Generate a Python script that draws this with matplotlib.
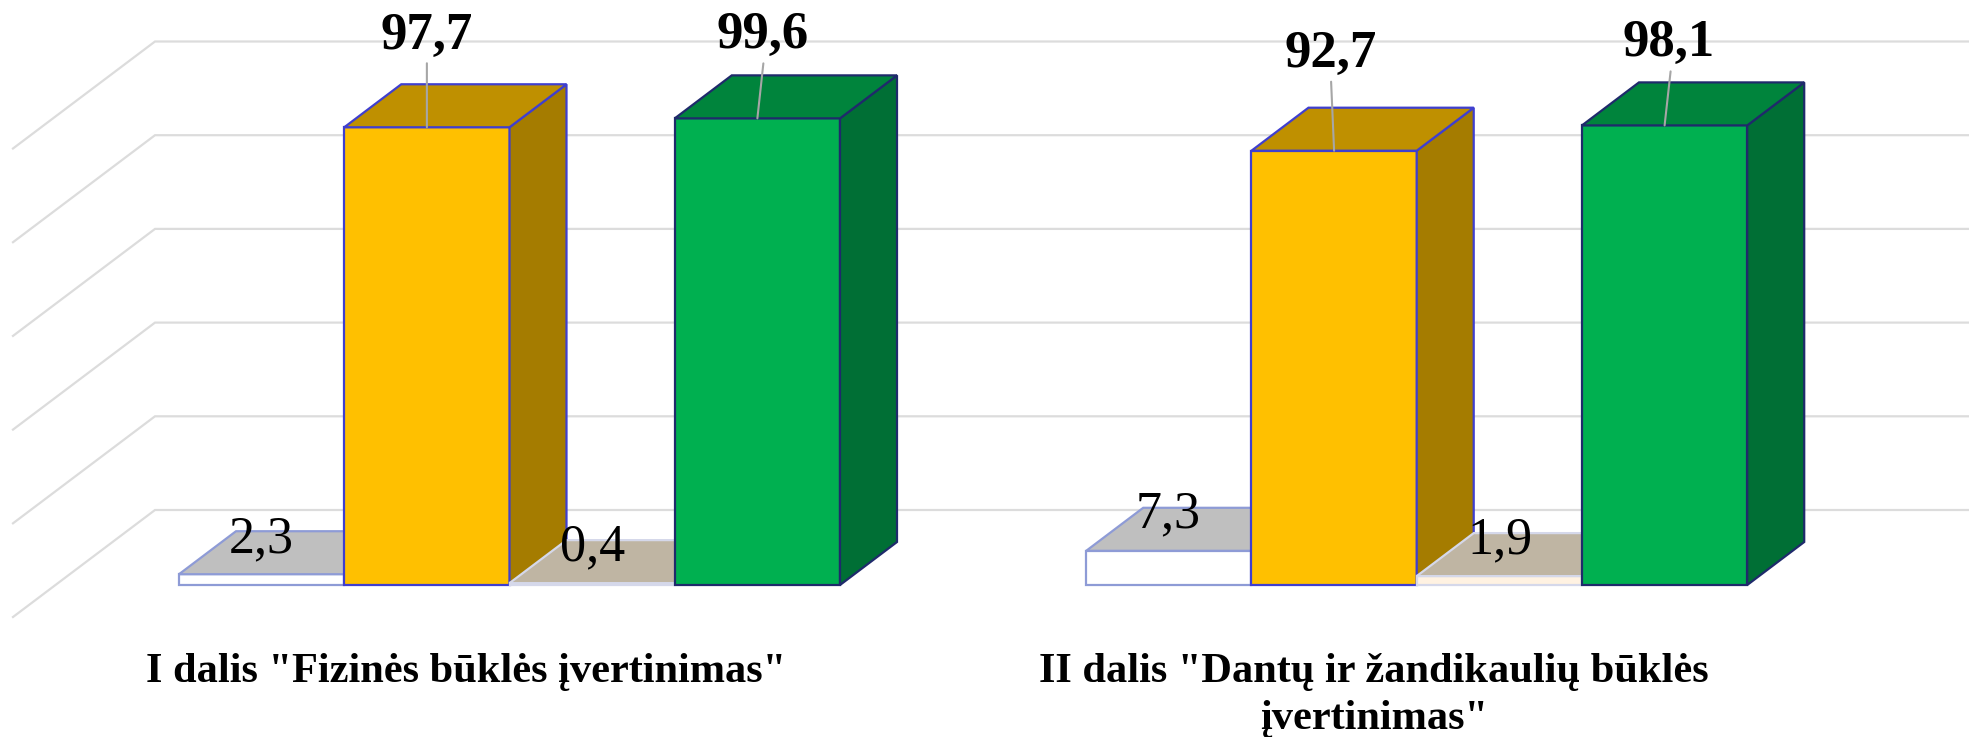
import numpy as np
import matplotlib
matplotlib.use('Agg')
import matplotlib.pyplot as plt
from matplotlib.patches import Polygon

# Values
categories = ['I dalis "Fizinės būklės įvertinimas"',
              'II dalis "Dantų ir žandikaulių būklės\nįvertinimas"']
white_a = [2.3, 7.3]
yellow = [97.7, 92.7]
white_b = [0.4, 1.9]
green = [99.6, 98.1]
grid_values = [0, 20, 40, 60, 80, 100]
value_labels = {'white_a': ['2,3', '7,3'], 'yellow': ['97,7', '92,7'],
                'white_b': ['0,4', '1,9'], 'green': ['99,6', '98,1']}

# Layout of the fake 3D chart
W, H = 1969, 737
PX_PER_BAR = 165.25
PX_PER_VALUE = 4.685
LEFT_PX = 179
BASE_PX = 585
GROUP_STEP = 5.49
DEPTH_X = 57 / PX_PER_BAR
DEPTH_Y = 43 / PX_PER_VALUE
WALL_X = -24 / PX_PER_BAR
WALL_Y = 75 / PX_PER_VALUE
FLOOR_X = -142 / PX_PER_BAR
FLOOR_Y = -107 / PX_PER_VALUE
# baseline of the last line of each category name, in picture pixels
category_baseline_px = [682, 729]

plt.rcParams['font.family'] = ['Liberation Serif', 'DejaVu Serif']

fig = plt.figure(figsize=(W / 100, H / 100), dpi=100)
ax = fig.add_axes([0, 0, 1, 1])
ax.set_xlim(-LEFT_PX / PX_PER_BAR, (W - LEFT_PX) / PX_PER_BAR)
ax.set_ylim((BASE_PX - H) / PX_PER_VALUE, BASE_PX / PX_PER_VALUE)
ax.axis('off')

# Back wall gridlines with their slanted part on the side wall
x_right = ax.get_xlim()[1]
for v in grid_values:
    y = v + WALL_Y
    ax.plot([WALL_X + FLOOR_X, WALL_X, x_right], [y + FLOOR_Y, y, y],
            color='#DCDCDC', lw=1.6, zorder=1, solid_joinstyle='miter')


def draw_bar(x, value, front, side, top, edge, z):
    ax.bar(x, value, width=1, align='edge', color=front, edgecolor=edge, linewidth=1.6, zorder=z)
    ax.add_patch(Polygon([(x + 1, 0), (x + 1 + DEPTH_X, DEPTH_Y),
                          (x + 1 + DEPTH_X, value + DEPTH_Y), (x + 1, value)],
                         facecolor=side, edgecolor=edge, lw=1.6, zorder=z))
    ax.add_patch(Polygon([(x, value), (x + DEPTH_X, value + DEPTH_Y),
                          (x + 1 + DEPTH_X, value + DEPTH_Y), (x + 1, value)],
                         facecolor=top, edgecolor=edge, lw=1.6, zorder=z))


def draw_label(x, value, text, off, bold):
    ax.annotate(text, xy=(x + 0.5, value), xytext=off, textcoords='offset pixels',
                ha='center', va='baseline', fontsize=38 if bold else 37.5,
                fontweight='bold' if bold else 'normal', color='black', zorder=10)


def draw_leader(x, value, off):
    ax.annotate('', xy=(x + 0.5, value), xytext=off, textcoords='offset pixels',
                arrowprops=dict(arrowstyle='-', color='#A6A6A6', lw=1.5, shrinkA=0, shrinkB=0),
                zorder=9)


# Offsets of the labels and leader lines from the bar tops, in pixels
off_a = [(0, 22), (-1, 23)]
off_yellow = [(0, 78), (-3, 84)]
off_b = [(0, 23), (1, 23)]
off_green = [(5, 70), (4, 69)]
lead_yellow = [(0, 64), (-3, 69)]
lead_green = [(6, 55), (6, 54)]

for g in range(len(categories)):
    x0 = g * GROUP_STEP
    draw_bar(x0, white_a[g], 'white', '#FFFFFF', '#BFBFBF', '#8E9BD6', 3)
    draw_bar(x0 + 1, yellow[g], '#FFC000', '#A57C00', '#BF9000', '#3F3FCF', 4)
    draw_bar(x0 + 2, white_b[g], '#FFF2E2', '#FFFFFF', '#BFB5A3', '#D5D8EA', 5)
    draw_bar(x0 + 3, green[g], '#00B050', '#006F35', '#00843C', '#1F2A6B', 6)

    draw_label(x0, white_a[g], value_labels['white_a'][g], off_a[g], False)
    draw_label(x0 + 1, yellow[g], value_labels['yellow'][g], off_yellow[g], True)
    draw_label(x0 + 2, white_b[g], value_labels['white_b'][g], off_b[g], False)
    draw_label(x0 + 3, green[g], value_labels['green'][g], off_green[g], True)
    draw_leader(x0 + 1, yellow[g], lead_yellow[g])
    draw_leader(x0 + 3, green[g], lead_green[g])

    # category names under the bars
    ax.text(x0 + 1.74, (BASE_PX - category_baseline_px[g]) / PX_PER_VALUE, categories[g],
            ha='center', va='baseline', fontsize=30.5, fontweight='bold', color='black',
            linespacing=1.32, zorder=10)

fig.savefig('out.png', dpi=100)
